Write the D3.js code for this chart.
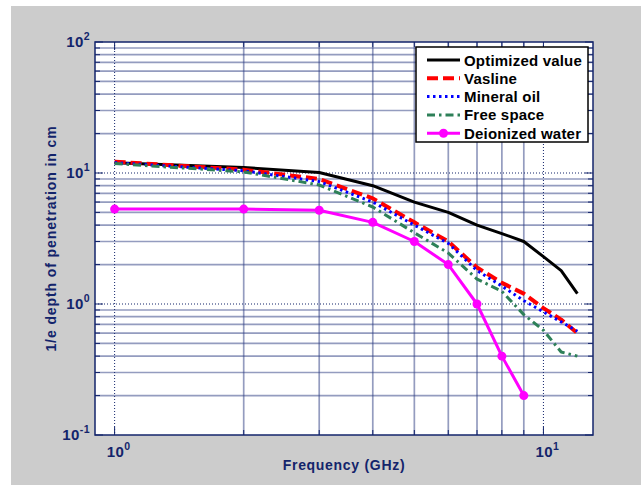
<!DOCTYPE html>
<html>
<head>
<meta charset="utf-8">
<script src="https://cdn.jsdelivr.net/npm/d3@7"></script>
<style>
  html, body { margin: 0; padding: 0; background: #ffffff; }
  svg { display: block; font-family: Arial, "Liberation Sans", sans-serif; }
</style>
</head>
<body>
<svg id="chart" width="641" height="485"></svg>
<script>
// Penetration depth vs. frequency, log-log
const frequency = [1, 2, 3, 4, 5, 6, 7, 8, 9, 10, 11, 12];
const optimizedValue = [12, 11, 10.1, 8.0, 6.0, 5.0, 4.0, 3.45, 3.0, 2.3, 1.8, 1.2];
const vasline        = [12.2, 10.6, 9.0, 6.4, 4.2, 3.0, 1.9, 1.45, 1.2, 0.93, 0.76, 0.6];
const mineralOil     = [12.0, 10.4, 8.6, 6.0, 4.0, 2.9, 1.8, 1.37, 1.06, 0.87, 0.73, 0.62];
const freeSpace      = [11.8, 10.2, 8.1, 5.5, 3.5, 2.45, 1.55, 1.25, 0.83, 0.63, 0.43, 0.4];
const waterFrequency = [1, 2, 3, 4, 5, 6, 7, 8, 9];
const deionizedWater = [5.3, 5.3, 5.2, 4.2, 3.0, 2.0, 1.0, 0.4, 0.2];

const seriesNames = ["Optimized value", "Vasline", "Mineral oil", "Free space", "Deionized water"];
const xTickExponents = [0, 1];
const yTickExponents = [-1, 0, 1, 2];

const navy = "#13246b";
const svg = d3.select("#chart");

// figure background
svg.append("rect").attr("x", 11).attr("y", 6).attr("width", 630).attr("height", 479).attr("fill", "#cccccc");

const plot = { left: 95, top: 42, right: 593, bottom: 435 };
const x = d3.scaleLog().domain([0.9, 13.05]).range([plot.left, plot.right]);
const y = d3.scaleLog().domain([0.1, 100]).range([plot.bottom, plot.top]);

svg.append("rect")
  .attr("x", plot.left).attr("y", plot.top)
  .attr("width", plot.right - plot.left).attr("height", plot.bottom - plot.top)
  .attr("fill", "#ffffff");

// grid values
const xMinor = [], xMajor = [1, 10];
for (const d of [1, 10]) for (let m = 2; m <= 9; m++) { const v = d * m; if (v < 13.05) xMinor.push(v); }
const yMinor = [], yMajor = [1, 10];
for (const d of [0.1, 1, 10]) for (let m = 2; m <= 9; m++) yMinor.push(d * m);

const grid = svg.append("g");
grid.selectAll("line.gx").data(xMinor).join("line")
  .attr("x1", d => x(d)).attr("x2", d => x(d)).attr("y1", plot.top).attr("y2", plot.bottom)
  .attr("stroke", "#2a3a80").attr("stroke-opacity", 0.5).attr("stroke-width", 1.7);
grid.selectAll("line.gy").data(yMinor).join("line")
  .attr("y1", d => y(d)).attr("y2", d => y(d)).attr("x1", plot.left).attr("x2", plot.right)
  .attr("stroke", "#2a3a80").attr("stroke-opacity", 0.5).attr("stroke-width", 1.7);
grid.selectAll("line.gX").data(xMajor).join("line")
  .attr("x1", d => x(d)).attr("x2", d => x(d)).attr("y1", plot.top).attr("y2", plot.bottom)
  .attr("stroke", navy).attr("stroke-width", 1).attr("stroke-dasharray", "1,2");
grid.selectAll("line.gY").data(yMajor).join("line")
  .attr("y1", d => y(d)).attr("y2", d => y(d)).attr("x1", plot.left).attr("x2", plot.right)
  .attr("stroke", navy).attr("stroke-width", 1).attr("stroke-dasharray", "1,2");

// inner ticks on all four sides
const ticks = svg.append("g").attr("stroke", navy).attr("stroke-width", 1);
const yAll = yMinor.concat([0.1, 1, 10, 100]);
yAll.forEach(v => {
  const len = [0.1, 1, 10, 100].includes(v) ? 8 : 5;
  ticks.append("line").attr("x1", plot.left).attr("x2", plot.left + len).attr("y1", y(v)).attr("y2", y(v));
  ticks.append("line").attr("x1", plot.right).attr("x2", plot.right - len).attr("y1", y(v)).attr("y2", y(v));
});
xMinor.concat(xMajor).forEach(v => {
  const len = xMajor.includes(v) ? 8 : 5;
  ticks.append("line").attr("y1", plot.bottom).attr("y2", plot.bottom - len).attr("x1", x(v)).attr("x2", x(v));
  ticks.append("line").attr("y1", plot.top).attr("y2", plot.top + len).attr("x1", x(v)).attr("x2", x(v));
});

// data lines
svg.append("clipPath").attr("id", "plotClip").append("rect")
  .attr("x", plot.left).attr("y", plot.top).attr("width", plot.right - plot.left).attr("height", plot.bottom - plot.top);
const lines = svg.append("g").attr("clip-path", "url(#plotClip)");
const lineGen = d3.line().x(d => x(d[0])).y(d => y(d[1]));

const styles = [
  { data: optimizedValue, freq: frequency, color: "#000000", width: 3, dash: null },
  { data: vasline, freq: frequency, color: "#ff0000", width: 4, dash: "11,5" },
  { data: mineralOil, freq: frequency, color: "#0000ff", width: 3, dash: "2.5,3.5" },
  { data: freeSpace, freq: frequency, color: "#2e8058", width: 3, dash: "8,4,2.5,4" },
  { data: deionizedWater, freq: waterFrequency, color: "#ff00ff", width: 3, dash: null, marker: true }
];

styles.forEach(s => {
  const pts = s.freq.map((f, i) => [f, s.data[i]]);
  lines.append("path").datum(pts)
    .attr("d", lineGen).attr("fill", "none")
    .attr("stroke", s.color).attr("stroke-width", s.width)
    .attr("stroke-dasharray", s.dash).attr("stroke-linejoin", "round");
  if (s.marker) {
    lines.selectAll(null).data(pts).join("circle")
      .attr("cx", d => x(d[0])).attr("cy", d => y(d[1])).attr("r", 4.5)
      .attr("fill", s.color);
  }
});

// axes box
svg.append("rect")
  .attr("x", plot.left).attr("y", plot.top)
  .attr("width", plot.right - plot.left).attr("height", plot.bottom - plot.top)
  .attr("fill", "none").attr("stroke", navy).attr("stroke-width", 1.5);

// tick labels
function powerLabel(sel, exp) {
  sel.append("tspan").text("10");
  sel.append("tspan").attr("dy", -7).attr("font-size", 10.5).text(String(exp));
}
yTickExponents.forEach(e => {
  const t = svg.append("text")
    .attr("x", 90).attr("y", y(Math.pow(10, e)) + 5)
    .attr("text-anchor", "end").attr("font-size", 15).attr("font-weight", "bold")
    .attr("letter-spacing", 0.4).attr("fill", navy);
  powerLabel(t, e);
});
xTickExponents.forEach(e => {
  const t = svg.append("text")
    .attr("x", x(Math.pow(10, e)) + 4).attr("y", 457)
    .attr("text-anchor", "middle").attr("font-size", 15).attr("font-weight", "bold")
    .attr("letter-spacing", 0.4).attr("fill", navy);
  powerLabel(t, e);
});

// axis titles
svg.append("text")
  .attr("x", (plot.left + plot.right) / 2).attr("y", 470)
  .attr("text-anchor", "middle").attr("font-size", 14).attr("font-weight", "bold")
  .attr("letter-spacing", 0.7).attr("fill", navy)
  .text("Frequency (GHz)");
svg.append("text")
  .attr("transform", `translate(56, ${(plot.top + plot.bottom) / 2}) rotate(-90)`)
  .attr("text-anchor", "middle").attr("font-size", 14).attr("font-weight", "bold")
  .attr("letter-spacing", 0.9).attr("fill", navy)
  .text("1/e depth of penetration in cm");

// legend
const legend = svg.append("g");
legend.append("rect").attr("x", 416).attr("y", 47).attr("width", 172).attr("height", 95)
  .attr("fill", "#ffffff").attr("stroke", "#000000").attr("stroke-width", 1.5);
seriesNames.forEach((name, i) => {
  const s = styles[i];
  const ly = 60 + i * 18.3;
  legend.append("line").attr("x1", 427).attr("x2", 460).attr("y1", ly).attr("y2", ly)
    .attr("stroke", s.color).attr("stroke-width", s.width).attr("stroke-dasharray", s.dash);
  if (s.marker) legend.append("circle").attr("cx", 443.5).attr("cy", ly).attr("r", 4.5).attr("fill", s.color);
  legend.append("text").attr("x", 464).attr("y", ly + 5.5)
    .attr("font-size", 15).attr("font-weight", "bold").attr("letter-spacing", 0.2)
    .attr("fill", "#000000").text(name);
});
</script>
</body>
</html>
